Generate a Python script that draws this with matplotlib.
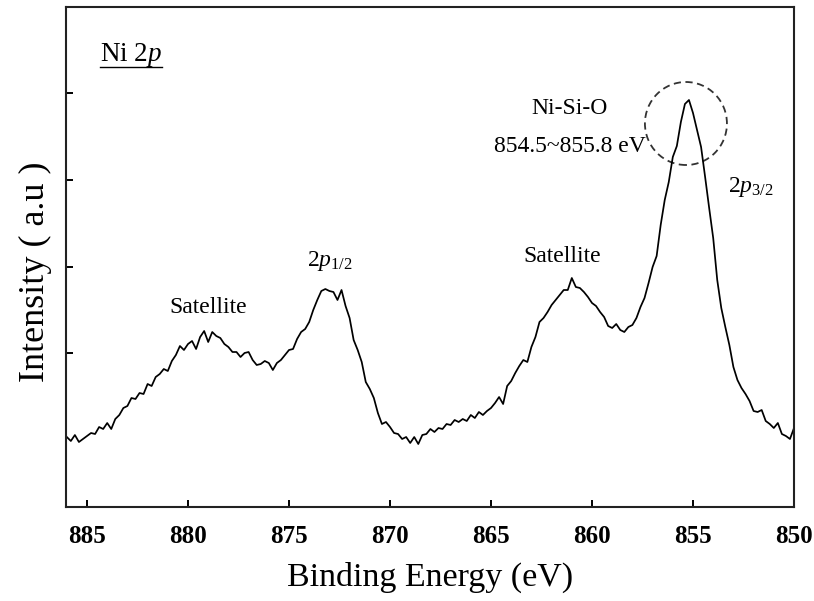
import numpy as np
import matplotlib
matplotlib.use("Agg")
import matplotlib.pyplot as plt
from matplotlib.patches import Ellipse
from matplotlib.lines import Line2D

plt.rcParams["font.family"] = ["Liberation Serif", "DejaVu Serif"]
plt.rcParams["mathtext.fontset"] = "custom"
plt.rcParams["mathtext.rm"] = "Liberation Serif"
plt.rcParams["mathtext.it"] = "Liberation Serif:italic"
plt.rcParams["mathtext.bf"] = "Liberation Serif:bold"

# Ni 2p XPS spectrum, 0.2 eV steps from 886 eV down to 850 eV
binding_energy = np.arange(886.0, 849.95, -0.2)
intensity = [
    70, 66, 72, 65, 68, 71, 74, 73, 80, 78,
    84, 78, 88, 92, 99, 101, 109, 108, 114, 113,
    123, 121, 130, 133, 138, 136, 146, 152, 161, 157,
    163, 166, 158, 170, 176, 165, 175, 171, 169, 163,
    160, 155, 155, 150, 154, 155, 147, 142, 143, 146,
    144, 137, 144, 147, 152, 157, 158, 168, 175, 178,
    185, 197, 207, 216, 218, 216, 215, 207, 217, 201,
    189, 167, 157, 145, 125, 118, 109, 94, 83, 85,
    80, 74, 73, 68, 70, 64, 70, 63, 72, 73,
    78, 75, 79, 78, 83, 82, 87, 85, 88, 86,
    92, 89, 95, 92, 96, 99, 104, 110, 103, 121,
    126, 134, 141, 147, 145, 160, 170, 185, 189, 195,
    202, 207, 212, 217, 217, 229, 220, 219, 215, 210,
    204, 201, 195, 190, 181, 179, 183, 177, 175, 180,
    182, 189, 200, 209, 224, 240, 251, 282, 307, 325,
    350, 361, 385, 403, 407, 394, 377, 360, 330, 299,
    269, 227, 199, 180, 162, 140, 127, 119, 113, 106,
    96, 95, 97, 86, 83, 79, 84, 73, 71, 68,
    79,
]

x_ticks = [885, 880, 875, 870, 865, 860, 855, 850]
y_ticks = [154, 240, 327, 414]

fig = plt.figure(figsize=(8.14, 6.01), dpi=100)
ax = fig.add_axes([66 / 814, 94 / 601, 728 / 814, 500 / 601])

ax.plot(binding_energy, intensity, color="black", lw=1.25)

ax.set_xlim(886.04, 850)
ax.set_ylim(0, 500)
ax.set_xticks(x_ticks)
ax.set_xticklabels([str(t) for t in x_ticks], fontweight="bold", fontsize=18)
ax.set_yticks(y_ticks)
ax.set_yticklabels([])
ax.tick_params(direction="in", length=5, width=1.4, pad=13)
for s in ax.spines.values():
    s.set_linewidth(1.5)
    s.set_color("#222222")

ax.set_xlabel("Binding Energy (eV)", fontsize=24.5, labelpad=10)
ax.set_ylabel("Intensity ( a.u )", fontsize=26)
ax.yaxis.set_label_coords(-0.019, 0.47)

# peak labels
ax.text(879.0, 194, "Satellite", fontsize=17, ha="center")
ax.text(872.97, 241, r"$2p_{1/2}$", fontsize=17, ha="center")
ax.text(861.5, 245, "Satellite", fontsize=17, ha="center")
ax.text(853.27, 315, r"$2p_{3/2}$", fontsize=17, ha="left")
ax.text(861.1, 393, "Ni-Si-O", fontsize=17, ha="center")
ax.text(861.1, 355, "854.5~855.8 eV", fontsize=17, ha="center")

# dashed ring around the main peak
ax.add_patch(Ellipse((855.35, 383.5), 4.06, 83, fill=False, ls=(0, (4, 2.5)),
                     lw=1.3, color="#333333"))

# underlined panel title
title = ax.text(884.36, 446, r"Ni $\mathit{2p}$", fontsize=19.5, ha="left")
fig.canvas.draw()
bb = title.get_window_extent().transformed(fig.transFigure.inverted())
fig.add_artist(Line2D([bb.x0, bb.x1], [bb.y0 + 0.004, bb.y0 + 0.004],
                      transform=fig.transFigure, color="black", lw=1.0))

fig.savefig("out.png", dpi=100)
